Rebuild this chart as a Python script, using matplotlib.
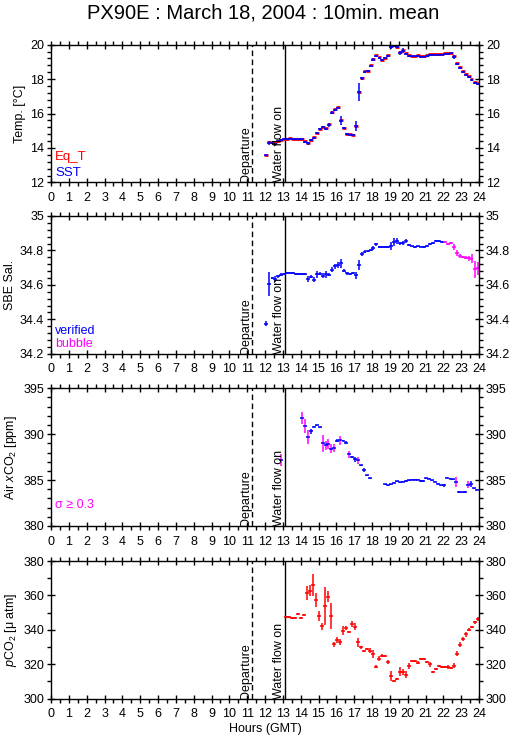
import numpy as np
import matplotlib
matplotlib.use("Agg")
import matplotlib.pyplot as plt
from matplotlib.ticker import MultipleLocator, FuncFormatter

plt.rcParams['font.family'] = ['Liberation Sans', 'DejaVu Sans']
plt.rcParams['mathtext.fontset'] = 'custom'
plt.rcParams['mathtext.rm'] = 'Liberation Sans'
plt.rcParams['mathtext.it'] = 'Liberation Sans:italic'

# 10 min mean times (hours GMT) for temperature / salinity
t_sea = [12.08, 12.25, 12.42, 12.58, 12.75, 12.92,
         13.08, 13.25, 13.42, 13.58, 13.75, 13.92,
         14.08, 14.25, 14.42, 14.58, 14.75, 14.92,
         15.08, 15.25, 15.42, 15.58, 15.75, 15.92,
         16.08, 16.25, 16.42, 16.58, 16.75, 16.92,
         17.08, 17.25, 17.42, 17.58, 17.75, 17.92,
         18.08, 18.25, 18.42, 18.58, 18.75, 18.92,
         19.08, 19.25, 19.42, 19.58, 19.75, 19.92,
         20.08, 20.25, 20.42, 20.58, 20.75, 20.92,
         21.08, 21.25, 21.42, 21.58, 21.75, 21.92,
         22.08, 22.25, 22.42, 22.58, 22.75, 22.92,
         23.08, 23.25, 23.42, 23.58, 23.75, 23.92]

sst = [13.57, 14.30, 14.30, 14.22, 14.38, 14.45, 14.50, 14.52, 14.55, 14.50, 14.50, 14.50,
       14.50, 14.35, 14.27, 14.45, 14.60, 14.85, 15.10, 15.20, 15.10, 15.33, 16.05, 16.20,
       16.33, 15.58, 15.14, 14.80, 14.78, 14.75, 15.27, 17.25, 18.04, 18.41, 18.47, 18.78,
       19.13, 19.34, 19.24, 19.10, 19.20, 19.36, 19.88, 19.94, 19.85, 19.53, 19.65, 19.46,
       19.36, 19.33, 19.33, 19.35, 19.30, 19.30, 19.35, 19.40, 19.42, 19.42, 19.42, 19.43,
       19.45, 19.47, 19.50, 19.28, 18.88, 18.64, 18.41, 18.26, 18.12, 17.97, 17.78, 17.72]
sst_err = [0.05, 0.12, 0.05, 0.08, 0.05, 0.05, 0.05, 0.04, 0.04, 0.04, 0.04, 0.04,
           0.04, 0.05, 0.08, 0.06, 0.06, 0.06, 0.05, 0.05, 0.08, 0.12, 0.10, 0.06,
           0.05, 0.25, 0.06, 0.05, 0.04, 0.04, 0.30, 0.50, 0.10, 0.06, 0.05, 0.06,
           0.08, 0.05, 0.05, 0.05, 0.05, 0.06, 0.15, 0.06, 0.06, 0.10, 0.15, 0.06,
           0.05, 0.04, 0.04, 0.04, 0.04, 0.04, 0.04, 0.04, 0.04, 0.04, 0.04, 0.04,
           0.04, 0.04, 0.04, 0.10, 0.06, 0.06, 0.05, 0.05, 0.05, 0.05, 0.05, 0.05]
eq_t = [13.62, 14.33, 14.34, 14.27, 14.42, 14.49, 14.53, 14.55, 14.58, 14.54, 14.54, 14.54,
        14.53, 14.40, 14.31, 14.49, 14.64, 14.89, 15.13, 15.23, 15.14, 15.37, 16.10, 16.24,
        16.38, 15.63, 15.17, 14.83, 14.81, 14.78, 15.30, 17.28, 18.08, 18.45, 18.50, 18.82,
        19.17, 19.38, 19.28, 19.14, 19.24, 19.40, 19.92, 19.98, 19.88, 19.57, 19.68, 19.50,
        19.40, 19.37, 19.37, 19.39, 19.34, 19.34, 19.39, 19.44, 19.46, 19.46, 19.46, 19.47,
        19.49, 19.51, 19.54, 19.32, 18.92, 18.68, 18.45, 18.30, 18.16, 18.01, 17.82, 17.76]

sal = [34.374, 34.605, 34.640, 34.634, 34.650, 34.660, 34.663, 34.667, 34.667, 34.667, 34.665, 34.665,
       34.665, 34.663, 34.634, 34.648, 34.630, 34.662, 34.665, 34.652, 34.662, 34.658, 34.688, 34.708,
       34.715, 34.725, 34.683, 34.668, 34.665, 34.670, 34.655, 34.715, 34.778, 34.792, 34.795, 34.803,
       34.815, 34.835, 34.822, 34.818, 34.818, 34.818, 34.825, 34.848, 34.855, 34.842, 34.845, 34.855,
       34.830, 34.823, 34.820, 34.823, 34.822, 34.820, 34.825, 34.835, 34.845, 34.855, 34.853, 34.850,
       34.850, 34.840, 34.843, 34.820, 34.783, 34.770, 34.762, 34.758, 34.755, 34.752, 34.690, 34.695]
sal_err = [0.015, 0.070, 0.008, 0.020, 0.008, 0.008, 0.006, 0.005, 0.005, 0.005, 0.005, 0.005,
           0.005, 0.006, 0.015, 0.008, 0.015, 0.020, 0.008, 0.015, 0.020, 0.008, 0.015, 0.015,
           0.015, 0.025, 0.008, 0.008, 0.006, 0.006, 0.020, 0.030, 0.012, 0.008, 0.006, 0.006,
           0.012, 0.010, 0.006, 0.006, 0.005, 0.005, 0.025, 0.025, 0.020, 0.008, 0.012, 0.012,
           0.006, 0.005, 0.005, 0.005, 0.005, 0.005, 0.005, 0.006, 0.006, 0.006, 0.005, 0.005,
           0.005, 0.006, 0.006, 0.020, 0.018, 0.012, 0.008, 0.008, 0.015, 0.025, 0.050, 0.040]
sal_flag = ['v'] * 60 + ['b'] * 12

# atmospheric xCO2
t_air = [12.90, 14.06, 14.23, 14.39, 14.56, 14.73, 14.90, 15.07, 15.24, 15.40, 15.55, 15.72,
         15.89, 16.06, 16.23, 16.40, 16.56, 16.73, 16.90, 17.07, 17.24, 17.40, 17.55, 17.72,
         17.89, 18.73, 18.88, 19.05, 19.22, 19.39, 19.55, 19.72, 19.89, 20.06, 20.23, 20.39,
         20.56, 20.73, 20.88, 21.05, 21.22, 21.39, 21.55, 21.72, 21.89, 22.06, 22.23, 22.40,
         22.56, 22.71, 22.88, 23.05, 23.22, 23.39, 23.55, 23.72, 23.89]
xco2 = [387.19, 391.73, 390.93, 389.70, 390.31, 390.82, 390.97, 390.75, 389.00, 388.79, 388.93, 388.43,
        388.50, 389.30, 389.33, 389.30, 389.08, 387.81, 387.52, 387.26, 387.15, 386.60, 386.10, 385.52,
        385.19, 384.54, 384.45, 384.55, 384.70, 384.85, 384.78, 384.80, 384.90, 385.00, 385.05, 385.05,
        385.05, 384.90, 384.90, 385.20, 385.15, 385.00, 384.80, 384.60, 384.45, 384.45, 385.25, 385.15,
        385.10, 384.75, 383.70, 383.65, 383.70, 384.50, 384.55, 384.10, 383.95]
xco2_err = [0.70, 0.65, 0.75, 0.80, 0.25, 0.06, 0.06, 0.06, 0.90, 0.50, 0.50, 0.50,
            0.45, 0.20, 0.50, 0.06, 0.20, 0.35, 0.06, 0.25, 0.40, 0.06, 0.20, 0.06,
            0.06, 0.06, 0.06, 0.06, 0.06, 0.10, 0.06, 0.06, 0.06, 0.06, 0.06, 0.06,
            0.06, 0.06, 0.06, 0.06, 0.06, 0.06, 0.06, 0.06, 0.06, 0.15, 0.06, 0.06,
            0.06, 0.55, 0.06, 0.06, 0.06, 0.40, 0.30, 0.06, 0.06]
xco2_flag = ['s', 's', 's', 's', 'v', 'v', 'v', 'v', 's', 's', 's', 's',
             's', 'v', 's', 'v', 'v', 's', 'v', 'v', 's', 'v', 'v', 'v',
             'v', 'v', 'v', 'v', 'v', 'v', 'v', 'v', 'v', 'v', 'v', 'v',
             'v', 'v', 'v', 'v', 'v', 'v', 'v', 'v', 'v', 'v', 'v', 'v',
             'v', 's', 'v', 'v', 'v', 's', 'v', 'v', 'v']

# seawater pCO2
t_pco2 = [13.18, 13.35, 13.52, 13.68, 13.85, 14.02, 14.19, 14.36, 14.53, 14.69, 14.86, 15.03,
          15.20, 15.37, 15.54, 15.70, 15.87, 16.04, 16.21, 16.38, 16.55, 16.71, 16.88, 17.05,
          17.22, 17.39, 17.55, 17.72, 17.89, 18.06, 18.23, 18.39, 18.56, 18.73, 18.90, 19.07,
          19.24, 19.40, 19.57, 19.74, 19.89, 20.06, 20.23, 20.39, 20.56, 20.73, 20.90, 21.07,
          21.24, 21.40, 21.57, 21.74, 21.91, 22.07, 22.24, 22.41, 22.58, 22.75, 22.92, 23.09,
          23.26, 23.42, 23.59, 23.76, 23.93]
pco2 = [347.3, 347.7, 347.1, 346.7, 349.0, 347.1, 348.4, 361.6, 362.8, 365.9, 357.3, 348.0,
        342.2, 353.9, 359.3, 348.0, 331.6, 334.1, 332.9, 339.5, 341.1, 338.5, 343.4, 341.8,
        332.7, 329.8, 327.9, 328.7, 327.9, 326.0, 318.6, 323.2, 325.0, 324.8, 321.3, 313.2,
        310.3, 311.2, 315.7, 315.5, 314.0, 319.0, 321.9, 321.9, 320.9, 323.0, 323.0, 321.3,
        320.1, 315.5, 317.2, 319.0, 318.6, 318.4, 318.4, 317.8, 319.2, 326.2, 331.4, 334.7,
        337.4, 340.1, 341.6, 344.4, 346.3]
pco2_err = [0.6, 0.6, 0.6, 0.6, 0.6, 0.6, 0.6, 4.0, 3.0, 6.5, 4.0, 3.0,
            2.0, 11.0, 3.0, 7.5, 1.5, 1.5, 1.5, 2.5, 1.0, 0.6, 2.0, 2.0,
            2.5, 1.0, 0.6, 0.6, 1.5, 2.5, 0.8, 1.5, 1.0, 0.8, 1.0, 3.0,
            0.6, 0.6, 2.5, 2.0, 2.0, 1.5, 0.6, 0.6, 1.0, 0.5, 0.5, 0.6,
            1.5, 0.6, 0.8, 0.6, 0.5, 0.5, 1.0, 0.6, 1.5, 1.5, 1.5, 1.0,
            1.5, 0.8, 0.8, 1.0, 1.0]

t_departure = 11.29
t_waterflow = 13.12
half_w = 0.11

RED = '#ff0000'
BLUE = '#0000ff'
MAG = '#ff00ff'
FS = 8.5
LW = 1.1

fig = plt.figure(figsize=(5.15, 7.39), dpi=100)
fig.text(0.51, 1 - 13 / 739, 'PX90E : March 18, 2004 : 10min. mean',
         ha='center', va='center', fontsize=14.5)

left = 51 / 515
width = 428 / 515
tops = [44.7, 216.0, 388.3, 561.0]
ph = 137.7


def setup(ax, ylo, yhi, major, minor, ylabel):
    ax.set_xlim(0, 24)
    ax.set_ylim(ylo, yhi)
    ax.xaxis.set_major_locator(MultipleLocator(1))
    ax.xaxis.set_minor_locator(MultipleLocator(0.5))
    ax.yaxis.set_major_locator(MultipleLocator(major))
    ax.yaxis.set_minor_locator(MultipleLocator(minor))
    ax.yaxis.set_major_formatter(FuncFormatter(lambda v, p: '%g' % round(v, 3)))
    ax.tick_params(which='major', direction='inout', length=6, width=1,
                   top=True, right=True, labelright=True, labelsize=FS + 0.5, pad=2)
    ax.tick_params(which='minor', direction='out', length=3, width=1,
                   top=True, right=True)
    ax.tick_params(axis='x', which='major', pad=4)
    for s in ax.spines.values():
        s.set_linewidth(1.0)
    ax.set_ylabel(ylabel, fontsize=FS + 0.5, labelpad=3)
    ax.axvline(t_departure, color='k', lw=1, ls=(0, (4, 2.5)))
    ax.axvline(t_waterflow, color='k', lw=1)
    ax.text(t_departure, ylo, 'Departure', rotation=90, ha='right', va='bottom',
            fontsize=FS + 0.5)
    ax.text(t_waterflow, ylo, 'Water flow on', rotation=90, ha='right', va='bottom',
            fontsize=FS + 0.5)


axes = []
for top in tops:
    ax = fig.add_axes([left, 1 - (top + ph) / 739, width, ph / 739])
    axes.append(ax)

# Temperature
ax = axes[0]
setup(ax, 12, 20, 2, 0.4, 'Temp. [°C]')
ax.errorbar(t_sea, eq_t, xerr=half_w, fmt='none', ecolor=RED, elinewidth=2.0)
ax.errorbar(t_sea, sst, xerr=half_w, yerr=sst_err, fmt='none', ecolor=BLUE, elinewidth=LW)
ax.text(0.01, 0.185, 'Eq_T', color=RED, transform=ax.transAxes, va='center', fontsize=FS + 1)
ax.text(0.01, 0.07, 'SST', color=BLUE, transform=ax.transAxes, va='center', fontsize=FS + 1)

# Salinity
ax = axes[1]
setup(ax, 34.2, 35.0, 0.2, 0.04, 'SBE Sal.')
t_arr = np.array(t_sea)
s_arr = np.array(sal)
e_arr = np.array(sal_err)
f_arr = np.array(sal_flag)
for flag, col in [('v', BLUE), ('b', MAG)]:
    m = f_arr == flag
    ax.errorbar(t_arr[m], s_arr[m], xerr=half_w, yerr=e_arr[m], fmt='none',
                ecolor=col, elinewidth=LW)
ax.text(0.01, 0.165, 'verified', color=BLUE, transform=ax.transAxes, va='center', fontsize=FS + 0.5)
ax.text(0.01, 0.068, 'bubble', color=MAG, transform=ax.transAxes, va='center', fontsize=FS + 0.5)

# Air xCO2
ax = axes[2]
setup(ax, 380, 395, 5, 1, 'Air $x$CO$_2$ [ppm]')
t_arr = np.array(t_air)
x_arr = np.array(xco2)
e_arr = np.array(xco2_err)
f_arr = np.array(xco2_flag)
m = f_arr == 's'
ax.errorbar(t_arr[m], x_arr[m], yerr=e_arr[m], fmt='none', ecolor=MAG, elinewidth=LW)
ax.errorbar(t_arr[m], x_arr[m], xerr=half_w, fmt='none', ecolor=BLUE, elinewidth=LW)
m = f_arr == 'v'
ax.errorbar(t_arr[m], x_arr[m], xerr=half_w, yerr=e_arr[m], fmt='none',
            ecolor=BLUE, elinewidth=LW)
ax.text(0.01, 0.155, 'σ ≥ 0.3', color=MAG, transform=ax.transAxes, va='center', fontsize=FS + 0.5)

# pCO2
ax = axes[3]
setup(ax, 300, 380, 20, 10, '$p$CO$_2$ [μ atm]')
ax.errorbar(t_pco2, pco2, xerr=half_w, yerr=pco2_err, fmt='none', ecolor=RED, elinewidth=LW)
ax.set_xlabel('Hours (GMT)', fontsize=FS + 0.5, labelpad=2)

fig.savefig('out.png', dpi=100)
